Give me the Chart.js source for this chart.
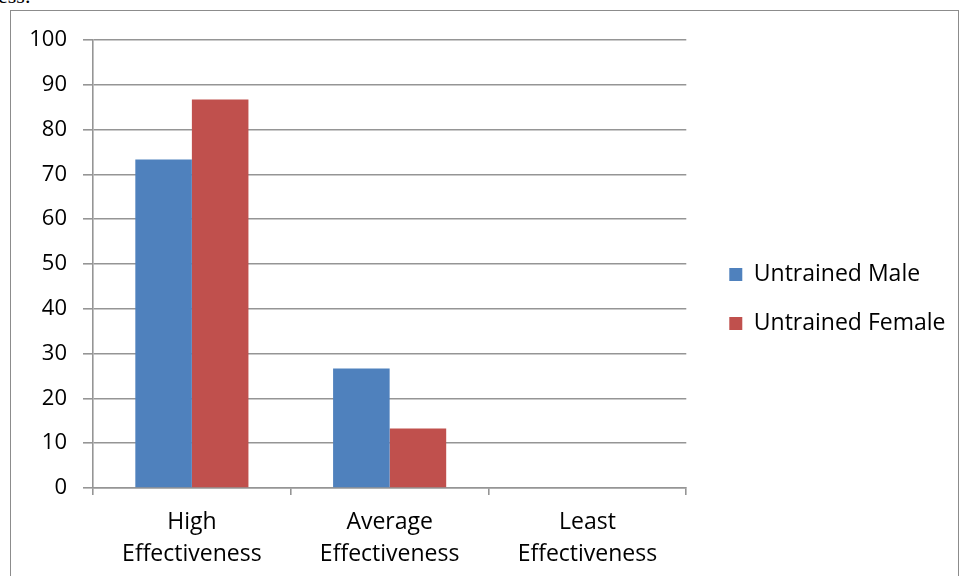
<!DOCTYPE html>
<html>
<head>
<meta charset="utf-8">
<title>Untrained Male vs Female</title>
<script src="https://cdn.jsdelivr.net/npm/chart.js@4.4.0/dist/chart.umd.min.js"></script>
<style>
  html, body { margin: 0; padding: 0; background: #fff; overflow: hidden; }
  #page { position: relative; width: 959px; height: 576px; overflow: hidden; }
  #above { position: absolute; left: -2px; top: -15px; font: 22px/22px "Liberation Serif", serif; color: #000; }
  #frame { position: absolute; left: 10px; top: 10px; width: 947px; height: 600px; border: 1px solid #8c8c8c; }
  #chart { position: absolute; left: 0; top: 0; }
</style>
</head>
<body>
<div id="page">
  <div id="above">ess.</div>
  <div id="frame"></div>
  <canvas id="chart" width="959" height="576"></canvas>
</div>
<script>
const categories = [["High", "Effectiveness"], ["Average", "Effectiveness"], ["Least", "Effectiveness"]];
const seriesNames = ["Untrained Male", "Untrained Female"];
const maleValues = [73.3, 26.7, 0];
const femaleValues = [86.7, 13.3, 0];
const yMin = 0;
const yMax = 100;
const yStep = 10;

const gridColor = "#959595";
const fontFamily = "'Open Sans', sans-serif";

// move the legend block a little to the right/down, like the original,
// and give it the whole space up to the canvas edge so no text gets cut
const legendNudge = {
  id: "legendNudge",
  afterLayout(chart) {
    let lg = chart.legend;
    if (!lg) return;
    let dx = 17;
    let dy = -9;
    lg.left += dx;
    lg.right = chart.width;
    lg.width = lg.right - lg.left;
    lg.top += dy;
    lg.bottom += dy;
  }
};

let ctx = document.getElementById("chart").getContext("2d");
let chart = new Chart(ctx, {
  type: "bar",
  data: {
    labels: categories,
    datasets: [
      {
        label: seriesNames[0],
        data: maleValues,
        backgroundColor: "#4f81bd",
        borderWidth: 0
      },
      {
        label: seriesNames[1],
        data: femaleValues,
        backgroundColor: "#c0504d",
        borderWidth: 0
      }
    ]
  },
  options: {
    responsive: false,
    animation: false,
    layout: { padding: { top: 40, right: 20, bottom: 0, left: 0 } },
    datasets: {
      bar: { categoryPercentage: 0.572, barPercentage: 1 }
    },
    plugins: {
      tooltip: { enabled: false },
      legend: {
        position: "right",
        labels: {
          boxWidth: 13,
          boxHeight: 13,
          padding: 26,
          color: "#000",
          font: { family: fontFamily, size: 23 }
        }
      }
    },
    scales: {
      x: {
        grid: {
          display: true,
          drawOnChartArea: false,
          drawTicks: true,
          tickLength: 7,
          offset: true,
          color: gridColor,
          lineWidth: 1.6
        },
        border: { display: true, color: gridColor, width: 1.6 },
        ticks: {
          color: "#000",
          padding: 11,
          font: { family: fontFamily, size: 23, lineHeight: 1.4 }
        },
        afterFit(scale) { scale.height = 88; }
      },
      y: {
        min: yMin,
        max: yMax,
        grid: { color: gridColor, tickLength: 10, lineWidth: 1.6 },
        border: { display: true, color: gridColor, width: 1.6 },
        ticks: {
          stepSize: yStep,
          color: "#000",
          padding: 16,
          font: { family: fontFamily, size: 22 }
        },
        afterFit(scale) { scale.width = 93; }
      }
    }
  },
  plugins: [legendNudge]
});

// keep the plot area's right edge where the original has it
for (let i = 0; i < 3; i++) {
  let diff = chart.chartArea.right - 686;
  if (Math.abs(diff) < 0.5) break;
  chart.options.layout.padding.right += diff;
  chart.update();
}
</script>
</body>
</html>
